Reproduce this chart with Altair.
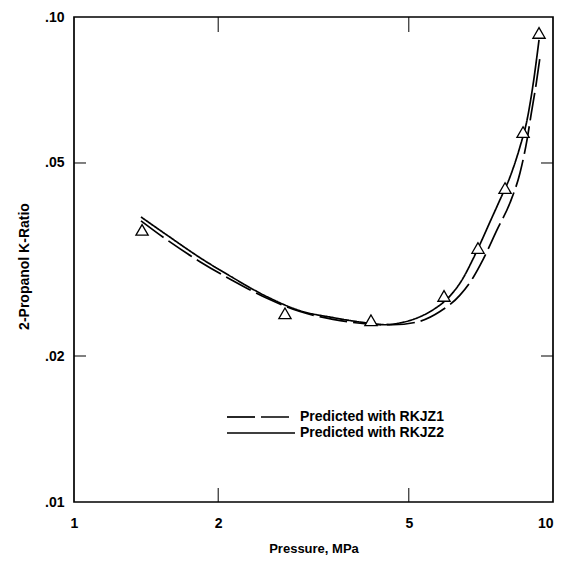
import altair as alt
import pandas as pd

# Experimental 2-propanol K-ratios (triangles)
exp_P = [1.387, 2.757, 4.169, 5.922, 6.973, 7.941, 8.659, 9.350]
exp_K = [0.0364, 0.0245, 0.0237, 0.0266, 0.0334, 0.0444, 0.0579, 0.0927]

# Predicted with RKJZ1 (dashed)
rkjz1_P = [1.380, 1.564, 1.832, 2.147, 2.529, 2.963, 3.473, 4.090, 4.634, 5.202,
           5.808, 6.394, 6.808, 7.143, 7.640, 8.133, 8.532, 8.826, 8.998, 9.215, 9.395]
rkjz1_K = [0.0380, 0.0347, 0.0313, 0.0286, 0.0263, 0.0247, 0.0238, 0.0233, 0.0232, 0.0235,
           0.0247, 0.0267, 0.0290, 0.0316, 0.0364, 0.0414, 0.0477, 0.0558, 0.0628, 0.0724, 0.0827]

# Predicted with RKJZ2 (solid)
rkjz2_P = [1.380, 1.564, 1.832, 2.147, 2.529, 2.963, 3.473, 4.090, 4.460, 4.793, 5.277, 5.617,
           6.095, 6.457, 6.808, 7.040, 7.387, 7.751, 8.133, 8.532, 8.826, 9.083, 9.350]
rkjz2_K = [0.0387, 0.0355, 0.0319, 0.0290, 0.0265, 0.0248, 0.0240, 0.0234, 0.0232, 0.0234, 0.0241, 0.0249,
           0.0266, 0.0287, 0.0317, 0.0340, 0.0378, 0.0420, 0.0468, 0.0540, 0.0613, 0.0724, 0.0897]

series_names = ["Predicted with RKJZ1", "Predicted with RKJZ2"]
x_ticks = [1, 2, 5, 10]
y_ticks = [0.01, 0.02, 0.05, 0.1]
x_inner_ticks = [2, 5]
y_inner_ticks = [0.02, 0.05]

W, H = 479, 485
FONT = "Liberation Sans"

lines_df = pd.concat([
    pd.DataFrame({"P": rkjz1_P, "K": rkjz1_K, "model": series_names[0]}),
    pd.DataFrame({"P": rkjz2_P, "K": rkjz2_K, "model": series_names[1]}),
], ignore_index=True)
exp_df = pd.DataFrame({"P": exp_P, "K": exp_K})
xt_df = pd.DataFrame({"P": x_inner_ticks})
yt_df = pd.DataFrame({"K": y_inner_ticks})

xscale = alt.Scale(type="log", domain=[1, 10], nice=False)
yscale = alt.Scale(type="log", domain=[0.01, 0.1], nice=False)

x_axis = alt.Axis(
    values=x_ticks, format="~g", title="Pressure, MPa", grid=False, ticks=False, domain=False,
    labelFont=FONT, labelFontSize=14, labelFontWeight="bold", labelColor="black",
    labelPadding=14, labelFlush=False, labelOverlap=False,
    labelAlign={"condition": {"test": "datum.value >= 10", "value": "right"}, "value": "center"},
    titleFont=FONT, titleFontSize=13, titleFontWeight="bold", titleColor="black",
    titleY=53, titleBaseline="bottom",
)
y_axis = alt.Axis(
    values=y_ticks, labelExpr="substring(format(datum.value, '.2f'), 1)",
    title="2-Propanol K-Ratio", grid=False, ticks=False, domain=False,
    labelFont=FONT, labelFontSize=14, labelFontWeight="bold", labelColor="black",
    labelPadding=10, labelFlush=False, labelOverlap=False, labelBaseline="middle",
    titleFont=FONT, titleFontSize=14, titleFontWeight="bold", titleColor="black",
    titleX=-50, titleY=249, titleAngle=270, titleAlign="center", titleBaseline="middle",
)

lines = alt.Chart(lines_df).mark_line(color="black", strokeWidth=1.7, interpolate="monotone").encode(
    x=alt.X("P:Q", scale=xscale, axis=x_axis),
    y=alt.Y("K:Q", scale=yscale, axis=y_axis),
    strokeDash=alt.StrokeDash(
        "model:N",
        scale=alt.Scale(domain=series_names, range=[[28, 6], [1, 0]]),
        legend=alt.Legend(
            title=None, orient="none", legendX=152, legendY=393, padding=0,
            clipHeight=14, rowPadding=2, symbolType="stroke", symbolSize=4624,
            symbolStrokeWidth=1.7, symbolStrokeColor="black", labelOffset=4,
            labelFont=FONT, labelFontSize=14, labelFontWeight="bold", labelColor="black",
            labelLimit=0,
        ),
    ),
    order="P:Q",
)

points = alt.Chart(exp_df).mark_point(
    shape="triangle-up", size=150, filled=False, fill="white", fillOpacity=1,
    stroke="black", strokeWidth=1.3, opacity=1,
).encode(
    x=alt.X("P:Q", scale=xscale),
    y=alt.Y("K:Q", scale=yscale),
)

tick_bottom = alt.Chart(xt_df).mark_rule(color="black", strokeWidth=1).encode(
    x=alt.X("P:Q", scale=xscale), y=alt.value(H), y2=alt.value(H - 14))
tick_top = alt.Chart(xt_df).mark_rule(color="black", strokeWidth=1).encode(
    x=alt.X("P:Q", scale=xscale), y=alt.value(0), y2=alt.value(15))
tick_left = alt.Chart(yt_df).mark_rule(color="black", strokeWidth=1).encode(
    y=alt.Y("K:Q", scale=yscale), x=alt.value(0), x2=alt.value(12))
tick_right = alt.Chart(yt_df).mark_rule(color="black", strokeWidth=1).encode(
    y=alt.Y("K:Q", scale=yscale), x=alt.value(W), x2=alt.value(W - 12))

chart = alt.layer(lines, points, tick_bottom, tick_top, tick_left, tick_right).properties(
    width=W, height=H,
    autosize=alt.AutoSizeParams(type="none"),
    padding={"left": 66, "top": 9, "right": 1, "bottom": 54},
    background="white",
).configure_view(stroke="black", strokeWidth=1.7)

chart.save("out.html", embed_options={"renderer": "svg", "actions": False})
